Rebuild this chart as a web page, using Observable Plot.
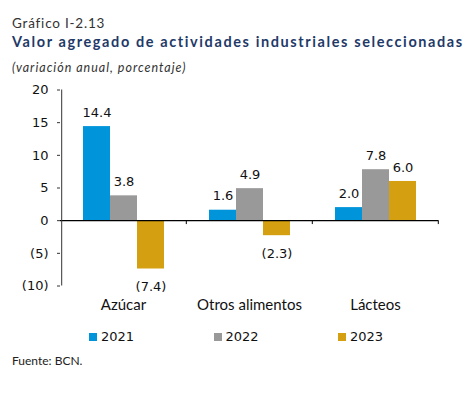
<!DOCTYPE html>
<html>
<head>
<meta charset="utf-8">
<script src="https://cdn.jsdelivr.net/npm/d3@7"></script>
<script src="https://cdn.jsdelivr.net/npm/@observablehq/plot@0.6"></script>
<style>
  html, body { margin: 0; padding: 0; background: #fff; }
  #wrap { position: relative; width: 471px; height: 395px; overflow: hidden; }
  .t { position: absolute; left: 12px; white-space: nowrap; }
  #kicker { top: 15px; font: 13.5px/1.2 Lato, sans-serif; color: #333; letter-spacing: 0.8px; }
  #title { top: 32.5px; font: bold 14.5px/1.2 Lato, sans-serif; color: #1f3a68; letter-spacing: 1.6px; }
  #subtitle { top: 59.5px; font: italic 12.5px/1.2 Lato, sans-serif; color: #333; letter-spacing: 1px; }
  #source { top: 354px; font: 12px/1.2 Lato, sans-serif; color: #222; }
  #chart { position: absolute; left: 0; top: 75px; }
  .lg { position: absolute; top: 329px; font: 13px/1.164 "DejaVu Sans", sans-serif; color: #111; }
  .lg i { display: inline-block; width: 8px; height: 8px; margin-right: 4px; vertical-align: 0px; }
</style>
</head>
<body>
<div id="wrap">
  <div class="t" id="kicker">Gráfico I-2.13</div>
  <div class="t" id="title">Valor agregado de actividades industriales seleccionadas</div>
  <div class="t" id="subtitle">(variación anual, porcentaje)</div>
  <div id="chart"></div>
  <div id="legend"></div>
  <div class="t" id="source">Fuente: BCN.</div>
</div>
<script>
const categories = ["Azúcar", "Otros alimentos", "Lácteos"];
const years = ["2021", "2022", "2023"];
const v2021 = [14.4, 1.6, 2.0];
const v2022 = [3.8, 4.9, 7.8];
const v2023 = [-7.4, -2.3, 6.0];
const yTicks = [-10, -5, 0, 5, 10, 15, 20];
const colors = ["#0095da", "#999999", "#d4a012"];

const series = [v2021, v2022, v2023];
const data = [];
categories.forEach((c, i) => years.forEach((y, j) => data.push({cat: c, year: y, value: series[j][i]})));

const fmt = v => v < 0 ? `(${d3.format(".1f")(-v)})` : d3.format(".1f")(v);
const fmtTick = v => v < 0 ? `(${-v})` : `${v}`;

const W = 471, H = 240, mL = 59, mR = 32, mT = 14.5, mB = 29.5;
const po = 0.76;
const facetW = (W - mL - mR) / categories.length;
const step = facetW / (years.length + 2 * po);
const edge = po * step + step / 2; // distance from band center of outer bar to facet edge

const chart = Plot.plot({
  width: W, height: H,
  marginLeft: mL, marginRight: mR, marginTop: mT, marginBottom: mB,
  style: {fontFamily: "DejaVu Sans", fontSize: "13px", color: "#111", background: "transparent"},
  fx: {domain: categories, padding: 0, label: null},
  x: {domain: years, paddingInner: 0, paddingOuter: po, axis: null},
  y: {domain: [-10, 20], label: null},
  color: {domain: years, range: colors},
  marks: [
    Plot.barY(data, {fx: "cat", x: "year", y: "value", fill: "year", inset: 0}),
    Plot.ruleY([0], {stroke: "#000", strokeWidth: 1.3}),
    Plot.ruleX([categories[0]], {fx: d => d, x: () => years[0], y1: -10, y2: 20, dx: -edge, stroke: "#333"}),
    Plot.ruleX(categories, {fx: d => d, x: () => years[years.length - 1], y1: 0, y2: -0.6, dx: edge, stroke: "#000"}),
    Plot.text(data.filter(d => d.value >= 0), {fx: "cat", x: "year", y: "value", text: d => fmt(d.value), dy: -14, fontSize: 13, fill: "#111"}),
    Plot.text(data.filter(d => d.value < 0), {fx: "cat", x: "year", y: "value", text: d => fmt(d.value), dy: 18, fontSize: 13, fill: "#111"}),
    Plot.axisY({ticks: yTicks, tickFormat: fmtTick, tickSize: 3, tickPadding: 9, fontSize: 13, label: null, stroke: "#333"}),
    Plot.axisFx({anchor: "bottom", tickSize: 0, tickPadding: 13, fontSize: 15, fontFamily: "Lato", label: null})
  ]
});
document.getElementById("chart").appendChild(chart);

const legend = document.getElementById("legend");
years.forEach((y, i) => {
  const el = document.createElement("div");
  el.className = "lg";
  el.style.left = (89 + i * 124.5) + "px";
  el.innerHTML = `<i style="background:${colors[i]}"></i>${y}`;
  legend.appendChild(el);
});
</script>
</body>
</html>
